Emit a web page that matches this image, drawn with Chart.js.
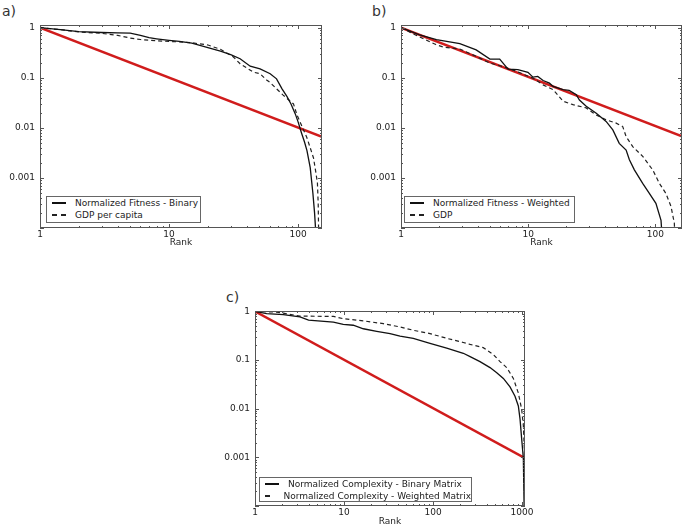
<!DOCTYPE html>
<html lang="en">

<head>
    <meta charset="UTF-8">
    <title>Rank distributions</title>
    <script src="https://cdn.jsdelivr.net/npm/chart.js"></script>
    <style>
        body { margin: 0; width: 685px; height: 527px; background: #fff; position: relative; overflow: hidden;
               font-family: 'DejaVu Sans', sans-serif; color: #222; }
        canvas { position: absolute; }
        .panel-label { position: absolute; font-size: 14px; color: #333; }
        .legend { position: absolute; box-sizing: border-box; border: 1px solid #666; background: #fff;
                  font-size: 9px; line-height: 12px; padding: 0; white-space: nowrap; }
        .legend .row { display: flex; align-items: center; height: 12px; }
        .sample { display: inline-block; width: 14px; height: 1.5px; margin: 0 9px 0 5px; }
        .solid { background: #111; }
        .dashed { background: repeating-linear-gradient(to right, #222 0 5px, transparent 5px 9px); }
    </style>
</head>

<body>
    <div class="panel-label" style="left:2px; top:3px">a)</div>
    <div class="panel-label" style="left:372px; top:3px">b)</div>
    <div class="panel-label" style="left:226px; top:289px">c)</div>

    <canvas id="chartA" width="340" height="248" style="left:0px; top:0px"></canvas>
    <canvas id="chartB" width="324" height="248" style="left:361px; top:0px"></canvas>
    <canvas id="chartC" width="330" height="241" style="left:215px; top:286px"></canvas>

    <div class="legend" style="left:46px; top:196px; width:155px; height:27px">
        <div class="row"><span class="sample solid"></span>Normalized Fitness - Binary</div>
        <div class="row"><span class="sample dashed"></span>GDP per capita</div>
    </div>
    <div class="legend" style="left:404px; top:196px; width:171px; height:27px">
        <div class="row"><span class="sample solid"></span>Normalized Fitness - Weighted</div>
        <div class="row"><span class="sample dashed"></span>GDP</div>
    </div>
    <div class="legend" style="left:259px; top:477px; width:213px; height:25px">
        <div class="row"><span class="sample solid"></span>Normalized Complexity - Binary Matrix</div>
        <div class="row"><span class="sample dashed"></span>Normalized Complexity - Weighted Matrix</div>
    </div>
</body>

<script>
    // a) fitness (binary) and GDP per capita
    const rankFitBin = [1, 1.5, 2, 3, 4, 5, 6, 7, 8, 10, 12, 15, 20, 25, 30, 35.5, 42.5, 50.7, 60.7, 68, 75, 82, 88, 95, 100, 106, 112, 117, 124, 130, 134, 137];
    const fitBin = [1, 0.9, 0.83, 0.8, 0.79, 0.78, 0.7, 0.63, 0.6, 0.56, 0.53, 0.49, 0.4, 0.34, 0.29, 0.24, 0.17, 0.15, 0.12, 0.095, 0.06, 0.042, 0.03, 0.019, 0.013, 0.008, 0.0052, 0.0035, 0.0016, 0.0005, 0.0002, 0.00008];
    const rankGdpPc = [1, 1.5, 2, 3, 4, 5, 6, 7, 10, 12, 15, 20, 25, 31.5, 35.5, 44.8, 50.7, 57, 60.7, 76.5, 92, 98, 106.5, 116.7, 124, 131.5, 137, 141, 143, 144.5];
    const gdpPc = [1, 0.9, 0.82, 0.77, 0.7, 0.62, 0.58, 0.56, 0.53, 0.52, 0.5, 0.45, 0.37, 0.26, 0.19, 0.13, 0.12, 0.09, 0.08, 0.045, 0.03, 0.018, 0.011, 0.0064, 0.004, 0.0025, 0.0013, 0.0008, 0.0003, 0.00005];
    const rankZipfA = [1, 153];
    const zipfA = [1, 0.0066];

    // b) fitness (weighted) and GDP
    const rankFitW = [1, 1.4, 1.9, 2.9, 3.9, 5, 5.97, 6.95, 8.3, 9.96, 10.9, 11.9, 13.1, 14.7, 15.7, 18.8, 21, 23.9, 25.3, 28.6, 34.3, 41, 46.3, 52, 58.9, 62.5, 68.4, 79.5, 89.7, 101, 110.8, 114];
    const fitW = [1, 0.72, 0.575, 0.48, 0.36, 0.236, 0.236, 0.149, 0.145, 0.128, 0.103, 0.106, 0.088, 0.078, 0.067, 0.058, 0.056, 0.046, 0.036, 0.027, 0.0195, 0.0134, 0.0091, 0.0049, 0.0036, 0.0023, 0.00145, 0.00078, 0.00049, 0.00031, 0.000142, 0.00005];
    const rankGdp = [1, 1.25, 1.88, 2.15, 2.9, 3.9, 5, 6.3, 8.1, 10.9, 13.1, 15.7, 18.8, 22.5, 28.6, 34.3, 41, 49.2, 55.4, 58.9, 66.4, 79.5, 95.3, 107.5, 121, 132.7, 141, 143];
    const gdp = [1, 0.75, 0.46, 0.41, 0.375, 0.267, 0.196, 0.168, 0.134, 0.098, 0.072, 0.058, 0.034, 0.029, 0.025, 0.018, 0.0145, 0.0124, 0.0106, 0.0067, 0.0042, 0.0027, 0.00145, 0.00078, 0.00049, 0.00027, 0.000125, 0.00005];
    const rankZipfB = [1, 162];
    const zipfB = [1, 0.0068];

    // c) product complexity, binary and weighted matrix
    const rankCompBin = [1, 1.35, 2.08, 3.2, 4, 7.6, 9.8, 12.7, 16.5, 23.3, 32.9, 42.6, 60, 92.5, 142.5, 219, 261, 337, 437, 520, 617, 733, 834, 909, 950, 991, 1035, 1061];
    const compBin = [1, 0.9, 0.86, 0.77, 0.66, 0.6, 0.54, 0.52, 0.44, 0.39, 0.35, 0.31, 0.28, 0.22, 0.175, 0.138, 0.118, 0.093, 0.07, 0.055, 0.042, 0.028, 0.018, 0.0114, 0.0061, 0.0024, 0.00095, 0.00005];
    const rankCompW = [1, 1.75, 2.08, 3.2, 7.6, 9.8, 16.5, 27.7, 42.6, 60, 92.5, 142.5, 219, 261, 367, 476, 566, 673, 799, 909, 991, 1035, 1061, 1075];
    const compW = [1, 0.97, 0.92, 0.8, 0.79, 0.71, 0.64, 0.56, 0.48, 0.41, 0.35, 0.28, 0.23, 0.21, 0.18, 0.13, 0.093, 0.07, 0.042, 0.021, 0.0097, 0.0045, 0.0015, 0.00005];
    const rankZipfC = [1, 1080];
    const zipfC = [1, 0.00096];

    const xTickLabels = { '0': '1', '1': '10', '2': '100', '3': '1000' };
    const yTickLabels = { '0': '1', '-1': '0.1', '-2': '0.01', '-3': '0.001' };

    const tickFont = { family: 'DejaVu Sans', size: 9 };

    function pts(xs, ys) {
        return xs.map((x, i) => ({ x: x, y: ys[i] }));
    }

    function decadeLabel(v, table) {
        const e = Math.log10(v);
        if (Math.abs(e - Math.round(e)) > 1e-9) return '';
        return table[String(Math.round(e))] || '';
    }

    function logTicks(min, max) {
        const out = [];
        for (let k = Math.floor(Math.log10(min)); k <= Math.ceil(Math.log10(max)); k++) {
            for (let m = 1; m < 10; m++) {
                const v = m * Math.pow(10, k);
                if (v >= min * 0.999 && v <= max * 1.001) out.push({ value: v, major: m === 1 });
            }
        }
        return out;
    }

    // box round the plot with inward ticks on every side
    const frame = {
        id: 'frame',
        afterDatasetsDraw(chart) {
            const { ctx, chartArea: a, scales: { x, y } } = chart;
            ctx.save();
            ctx.strokeStyle = '#555';
            ctx.lineWidth = 1;
            ctx.beginPath();
            logTicks(x.min, x.max).forEach(t => {
                const px = Math.round(x.getPixelForValue(t.value)) + 0.5;
                const len = t.major ? 4 : 2;
                ctx.moveTo(px, a.bottom); ctx.lineTo(px, a.bottom - len);
                ctx.moveTo(px, a.top); ctx.lineTo(px, a.top + len);
            });
            logTicks(y.min, y.max).forEach(t => {
                const py = Math.round(y.getPixelForValue(t.value)) + 0.5;
                const len = t.major ? 4 : 2;
                ctx.moveTo(a.left, py); ctx.lineTo(a.left + len, py);
                ctx.moveTo(a.right, py); ctx.lineTo(a.right - len, py);
            });
            ctx.stroke();
            ctx.strokeRect(Math.round(a.left) + 0.5, Math.round(a.top) + 0.5, Math.round(a.width) - 1, Math.round(a.height) - 1);
            ctx.restore();
        }
    };

    function makeChart(id, sets, xmax, ymax, padRight, axisH) {
        return new Chart(document.getElementById(id).getContext('2d'), {
            type: 'line',
            data: {
                datasets: [{
                    data: pts(sets[0][0], sets[0][1]),
                    borderColor: '#111',
                    borderWidth: 1.3,
                    pointRadius: 0,
                    tension: 0
                },
                {
                    data: pts(sets[1][0], sets[1][1]),
                    borderColor: '#222',
                    borderWidth: 1.2,
                    borderDash: [4, 3],
                    pointRadius: 0,
                    tension: 0
                },
                {
                    data: pts(sets[2][0], sets[2][1]),
                    borderColor: '#d01c1c',
                    borderWidth: 2.5,
                    pointRadius: 0,
                    tension: 0
                }]
            },
            options: {
                responsive: false,
                animation: false,
                layout: { padding: { top: 25, right: padRight, left: 0, bottom: 0 } },
                plugins: {
                    legend: { display: false },
                    tooltip: { enabled: false }
                },
                scales: {
                    x: {
                        type: 'logarithmic',
                        min: 1,
                        max: xmax,
                        grid: { display: false, drawTicks: false },
                        border: { display: false },
                        ticks: {
                            autoSkip: false,
                            maxRotation: 0,
                            padding: 1,
                            color: '#222',
                            font: tickFont,
                            callback: v => decadeLabel(v, xTickLabels)
                        },
                        title: { display: true, text: 'Rank', color: '#222', font: tickFont, padding: 0 },
                        afterFit: s => { s.height = axisH; }
                    },
                    y: {
                        type: 'logarithmic',
                        min: 0.0001,
                        max: ymax,
                        grid: { display: false, drawTicks: false },
                        border: { display: false },
                        ticks: {
                            autoSkip: false,
                            padding: 5,
                            color: '#222',
                            font: tickFont,
                            callback: v => decadeLabel(v, yTickLabels)
                        },
                        afterFit: s => { s.width = 40; }
                    }
                }
            },
            plugins: [frame]
        });
    }

    var chartA = makeChart('chartA', [[rankFitBin, fitBin], [rankGdpPc, gdpPc], [rankZipfA, zipfA]], 153, 1.13, 18, 20);
    var chartB = makeChart('chartB', [[rankFitW, fitW], [rankGdp, gdp], [rankZipfB, zipfB]], 162, 1.13, 3, 20);
    var chartC = makeChart('chartC', [[rankCompBin, compBin], [rankCompW, compW], [rankZipfC, zipfC]], 1080, 1.02, 20, 21);
</script>

</html>
